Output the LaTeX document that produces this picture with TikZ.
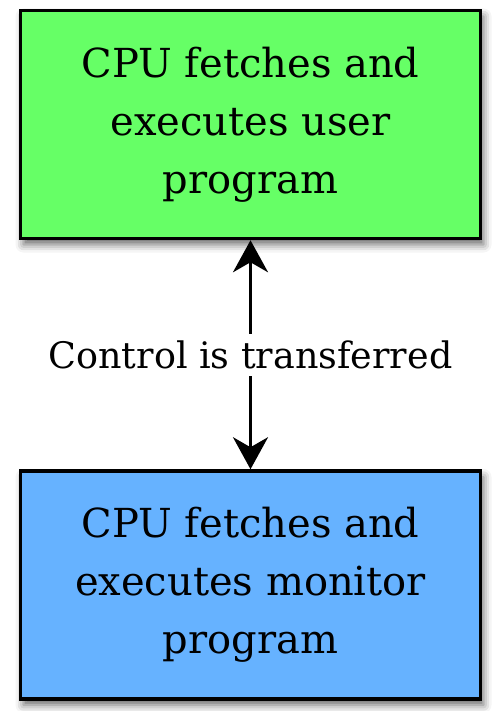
\documentclass[tikz,border=0pt]{standalone}
\usepackage{fontspec}
\setmainfont{DejaVu Serif}
\usetikzlibrary{arrows.meta,shadows.blur}
\definecolor{usergreen}{RGB}{102,255,102}
\definecolor{monitorblue}{RGB}{102,178,255}
\begin{document}
\begin{tikzpicture}[x=1pt, y=1pt,
        box/.style={draw, line width=3.5pt, minimum width=460pt, minimum height=228pt, align=center,
          font=\fontsize{40}{58}\selectfont,
          blur shadow={shadow xshift=3pt, shadow yshift=-6pt, shadow blur radius=8pt, shadow opacity=60}},
        arr/.style={{Stealth[length=32pt, width=35pt, inset=10pt]}-{Stealth[length=32pt, width=35pt, inset=10pt]}, line width=3pt},
        lbl/.style={fill=white, inner sep=7pt, font=\fontsize{36.5}{44}\selectfont}
      ]
        \useasboundingbox (0,0) rectangle (491,-711);
        \node[box, fill=usergreen] (user) at (250.5,-124.5) {CPU fetches and\\executes user\\program};
        \node[box, fill=monitorblue] (monitor) at (250.5,-585) {CPU fetches and\\executes monitor\\program};
        \draw[arr] (user.south) -- node[lbl] (ctl) {Control is transferred} (monitor.north);
      \end{tikzpicture}
\end{document}
